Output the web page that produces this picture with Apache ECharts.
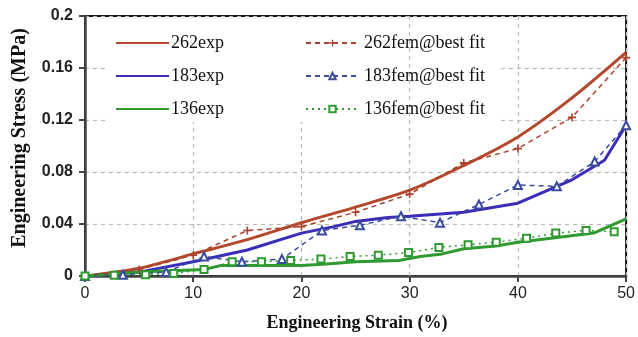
<!DOCTYPE html>
<html><head><meta charset="utf-8">
<script src="https://cdn.jsdelivr.net/npm/echarts@6/dist/echarts.min.js"></script>
<style>html,body{margin:0;padding:0;background:#fff}#c{width:638px;height:337px}</style>
</head><body><div id="c"></div>
<script>
// ---- data ----
const strain262Exp = [0,5,10,15,20,25,30,35,40,45,50];
const stress262Exp = [0,0.006,0.017,0.028,0.041,0.053,0.066,0.085,0.107,0.137,0.172];
const strain262Fem = [0,5,10,15,20,25,30,35,40,45,50];
const stress262Fem = [0,0.005,0.016,0.035,0.038,0.049,0.063,0.087,0.098,0.122,0.168];
const strain183Exp = [0,5,10,15,20,23,25,28,30,35,40,45,48,50];
const stress183Exp = [0,0.003,0.011,0.020,0.033,0.038,0.042,0.045,0.046,0.049,0.056,0.074,0.089,0.116];
const strain183Fem = [0,3.5,7.5,11,14.5,18.2,21.9,25.4,29.2,32.8,36.4,40,43.6,47.1,50];
const stress183Fem = [0,0.001,0.003,0.015,0.011,0.013,0.035,0.039,0.046,0.041,0.055,0.070,0.069,0.088,0.116];
const strain136Exp = [0,5,8,11,12.5,20,22,25,29,31,33,35,38,40,44,47,50];
const stress136Exp = [0,0.003,0.004,0.005,0.008,0.008,0.009,0.011,0.012,0.015,0.017,0.021,0.023,0.026,0.030,0.033,0.044];
const strain136Fem = [0,2.7,5.6,8.2,11,13.6,16.3,19,21.8,24.5,27.1,29.9,32.7,35.4,38,40.8,43.5,46.3,48.9];
const stress136Fem = [0,0.0005,0.001,0.002,0.005,0.011,0.011,0.012,0.013,0.015,0.016,0.018,0.022,0.024,0.026,0.029,0.033,0.035,0.034];
const names = ['262exp','183exp','136exp','262fem@best fit','183fem@best fit','136fem@best fit'];
const xTicks = [0,10,20,30,40,50];
const yTicks = [0,0.04,0.08,0.12,0.16,0.2];

const zip = (a,b)=>a.map((v,i)=>[v,b[i]]);
const RED='#b5472c', BLUE='#3b2db8', GREEN='#2f9a2f';
const RED2='#a8442e', BLUE2='#3a4c9e', GREEN2='#2f9a2f';
const plus='path://M4,0H6V4H10V6H6V10H4V6H0V4H4Z';
const gridCol='#b8b8b8';
const serif='"Liberation Serif","Times New Roman",serif';

const chart = echarts.init(document.getElementById('c'), null, {renderer:'canvas'});
chart.setOption({
  animation:false,
  backgroundColor:'#fff',
  grid:{left:85, top:16, width:544, height:260, show:true, borderColor:'#111', borderWidth:2, backgroundColor:'transparent'},
  xAxis:{type:'value', min:xTicks[0], max:xTicks[xTicks.length-1], interval:10,
    axisLine:{show:true, lineStyle:{color:'#444', width:2.5}},
    axisTick:{show:true, length:6, lineStyle:{color:'#444', width:2}},
    axisLabel:{color:'#222', fontFamily:'Liberation Sans, Arial', fontSize:16, margin:10},
    splitLine:{show:true, lineStyle:{color:gridCol, type:[4,4], width:1.2}}},
  yAxis:{type:'value', min:yTicks[0], max:yTicks[yTicks.length-1], interval:0.04,
    axisLine:{show:true, lineStyle:{color:'#444', width:2.5}},
    axisTick:{show:true, length:6, lineStyle:{color:'#444', width:2}},
    axisLabel:{color:'#222', fontFamily:'Liberation Sans, Arial', fontSize:16, fontWeight:'bold', margin:12,
      formatter:v=>v===0?'0':String(+v.toFixed(2))},
    splitLine:{show:true, lineStyle:{color:gridCol, type:[4,4], width:1.2}}},
  graphic:[
    {type:'rect', z:1, shape:{x:105,y:18,width:393,height:104}, style:{fill:'#fff'}, silent:true},
    {type:'text', z:5, position:[357,323], style:{text:'Engineering Strain (%)', x:0, y:0, textAlign:'center', textVerticalAlign:'middle',
      font:'bold 18px '+serif, fill:'#111'}},
    {type:'text', z:5, rotation:Math.PI/2, position:[20,138], style:{text:'Engineering Stress (MPa)', x:0, y:0, textAlign:'center', textVerticalAlign:'middle',
      font:'bold 20px '+serif, fill:'#111'}}
  ],
  legend:[
    {data:names.slice(0,3).map(n=>({name:n, itemStyle:{opacity:0}})), orient:'vertical', left:115, top:34, itemWidth:53, itemHeight:8, itemGap:15, padding:0,
      textStyle:{fontFamily:serif, fontSize:18, color:'#111', lineHeight:18, padding:[0,0,0,-3]}},
    {data:names.slice(3), orient:'vertical', left:305, top:34, itemWidth:53, itemHeight:8, itemGap:15, padding:0,
      textStyle:{fontFamily:serif, fontSize:18, color:'#111', lineHeight:18}}
  ],
  series:[
    {name:names[0], type:'line', data:zip(strain262Exp,stress262Exp), smooth:0.3, symbol:'none', lineStyle:{color:RED,width:3}, itemStyle:{color:RED}, z:3},
    {name:names[1], type:'line', data:zip(strain183Exp,stress183Exp), symbol:'none', lineStyle:{color:BLUE,width:3}, itemStyle:{color:BLUE}, z:3},
    {name:names[2], type:'line', data:zip(strain136Exp,stress136Exp), symbol:'none', lineStyle:{color:GREEN,width:3}, itemStyle:{color:GREEN}, z:3,
      markLine:{silent:true, symbol:'none', label:{show:false}, lineStyle:{color:gridCol, type:[4,4], width:1.2}, data:[{xAxis:30}], z:1}},
    {name:names[3], type:'line', data:zip(strain262Fem,stress262Fem), symbol:plus, symbolSize:8, showAllSymbol:true,
      lineStyle:{color:RED2,width:1.5,type:[5,4]}, itemStyle:{color:RED2, borderWidth:0}, z:4},
    {name:names[4], type:'line', data:zip(strain183Fem,stress183Fem), symbol:'emptyTriangle', symbolSize:8, showAllSymbol:true,
      lineStyle:{color:BLUE2,width:1.5,type:[5,4]}, itemStyle:{color:BLUE2, borderWidth:1.2}, z:4},
    {name:names[5], type:'line', data:zip(strain136Fem,stress136Fem), symbol:'emptyRect', symbolSize:7, showAllSymbol:true,
      lineStyle:{color:GREEN2,width:1.5,type:[2,4]}, itemStyle:{color:GREEN2, borderWidth:1.2}, z:4}
  ]
});
</script></body></html>
